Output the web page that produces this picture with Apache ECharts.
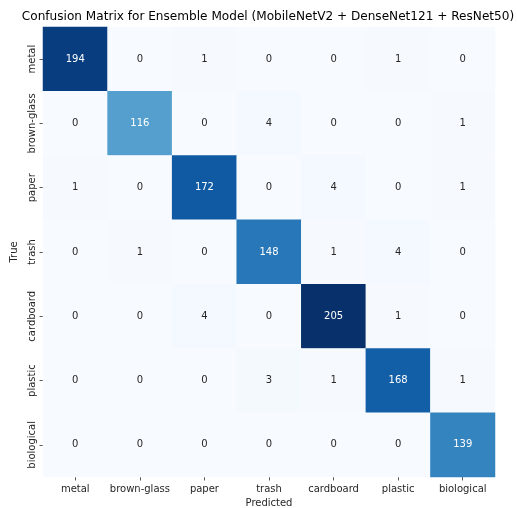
<!DOCTYPE html>
<html>
<head>
<meta charset="utf-8">
<script src="https://cdn.jsdelivr.net/npm/echarts@6/dist/echarts.min.js"></script>
<style>
  html, body { margin: 0; padding: 0; background: #fff; }
  #chart { width: 517px; height: 508px; }
</style>
</head>
<body>
<div id="chart"></div>
<script>
// Class names, shared by both axes
const classes = ['metal', 'brown-glass', 'paper', 'trash', 'cardboard', 'plastic', 'biological'];

// Confusion matrix rows: true class -> counts per predicted class
const rowMetal      = [194, 0, 1, 0, 0, 1, 0];
const rowBrownGlass = [0, 116, 0, 4, 0, 0, 1];
const rowPaper      = [1, 0, 172, 0, 4, 0, 1];
const rowTrash      = [0, 1, 0, 148, 1, 4, 0];
const rowCardboard  = [0, 0, 4, 0, 205, 1, 0];
const rowPlastic    = [0, 0, 0, 3, 1, 168, 1];
const rowBiological = [0, 0, 0, 0, 0, 0, 139];

const matrix = [rowMetal, rowBrownGlass, rowPaper, rowTrash, rowCardboard, rowPlastic, rowBiological];

const vmax = Math.max(...matrix.flat());
const FONT = 'DejaVu Sans';

// Heatmap cells: [predicted index, true index, count]
const cells = [];
matrix.forEach((row, t) => {
  row.forEach((v, p) => {
    cells.push({
      value: [p, t, v],
      label: { color: v > vmax * 0.5 ? '#ffffff' : '#262626' }
    });
  });
});

const chart = echarts.init(document.getElementById('chart'), null, { renderer: 'canvas' });

chart.setOption({
  backgroundColor: '#ffffff',
  animation: false,
  graphic: [{
    type: 'text',
    x: 268,
    y: 17,
    style: {
      text: 'Confusion Matrix for Ensemble Model (MobileNetV2 + DenseNet121 + ResNet50)',
      fontFamily: FONT,
      fontSize: 12.1,
      fill: '#000',
      align: 'center',
      verticalAlign: 'middle'
    }
  }],
  grid: { left: 43, right: 22, top: 27, bottom: 31, outerBoundsMode: 'none', containLabel: false },
  xAxis: {
    type: 'category',
    data: classes,
    name: 'Predicted',
    nameLocation: 'middle',
    nameGap: 21,
    nameTextStyle: { fontFamily: FONT, fontSize: 10, color: '#262626' },
    axisLine: { show: false },
    axisTick: { show: true, alignWithLabel: true, length: 3.5, lineStyle: { color: '#333', width: 0.8 } },
    axisLabel: { fontFamily: FONT, fontSize: 10, color: '#262626', margin: 7, interval: 0 },
    splitLine: { show: false },
    splitArea: { show: false }
  },
  yAxis: {
    type: 'category',
    data: classes,
    inverse: true,
    name: 'True',
    nameLocation: 'middle',
    nameGap: 23,
    nameRotate: 90,
    nameTextStyle: { fontFamily: FONT, fontSize: 10, color: '#262626' },
    axisLine: { show: false },
    axisTick: { show: true, alignWithLabel: true, length: 3.5, lineStyle: { color: '#333', width: 0.8 } },
    axisLabel: { fontFamily: FONT, fontSize: 10, color: '#262626', margin: 6, rotate: 90, interval: 0 },
    splitLine: { show: false },
    splitArea: { show: false }
  },
  visualMap: {
    show: false,
    type: 'continuous',
    min: 0,
    max: vmax,
    dimension: 2,
    inRange: {
      color: ['#f7fbff', '#deebf7', '#c6dbef', '#9ecae1', '#6baed6', '#4292c6', '#2171b5', '#08519c', '#08306b']
    }
  },
  series: [{
    type: 'heatmap',
    data: cells,
    itemStyle: { borderWidth: 0 },
    label: {
      show: true,
      fontFamily: FONT,
      fontSize: 10,
      formatter: p => String(p.value[2])
    },
    emphasis: { disabled: true }
  }]
});
</script>
</body>
</html>
